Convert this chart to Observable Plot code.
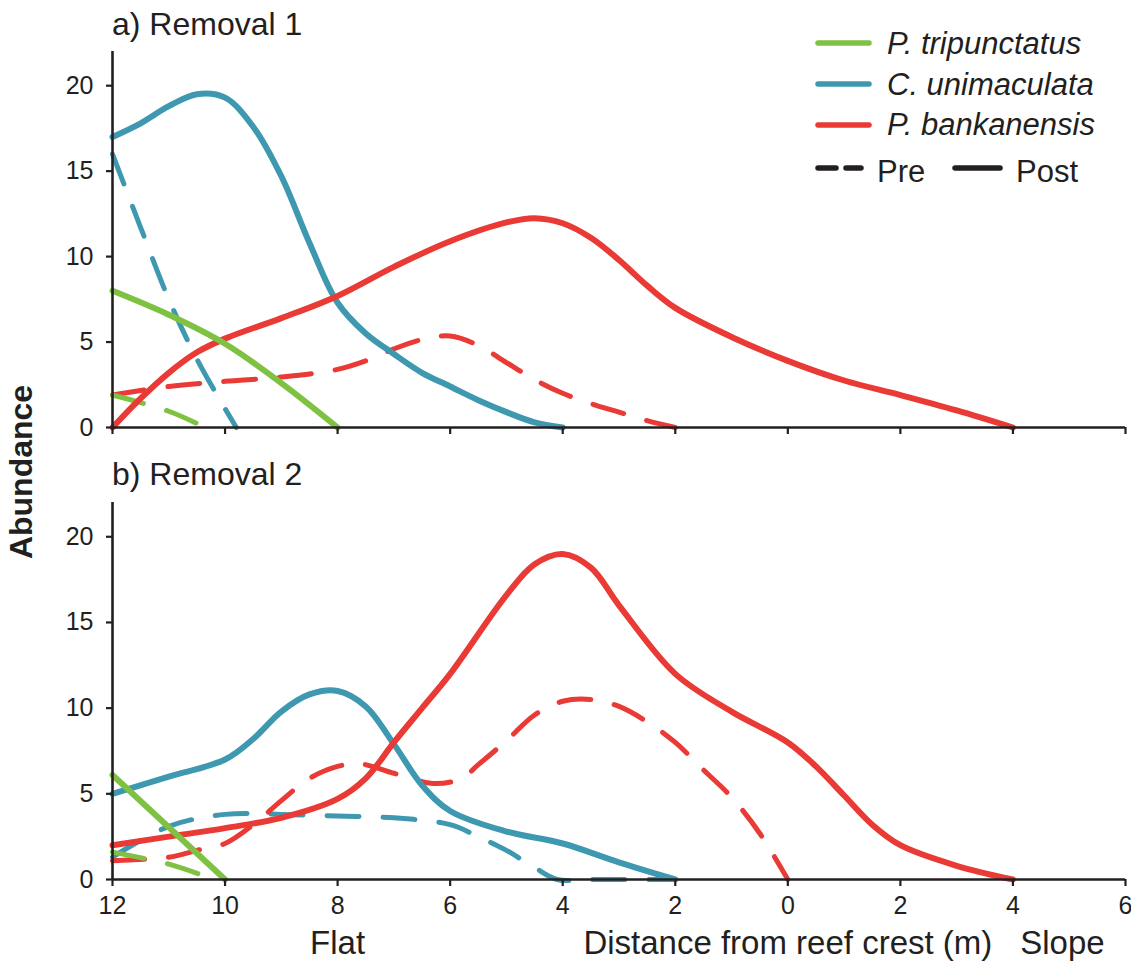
<!DOCTYPE html>
<html>
<head>
<meta charset="utf-8">
<script src="https://cdn.jsdelivr.net/npm/d3@7"></script>
<script src="https://cdn.jsdelivr.net/npm/@observablehq/plot@0.6"></script>
<style>
  html, body { margin: 0; padding: 0; background: #fff; }
  #fig { position: relative; width: 1131px; height: 961px; font-family: 'Liberation Sans', Arial, sans-serif; color: #231f20; overflow: hidden; }
  .abs { position: absolute; white-space: nowrap; line-height: 1; }
</style>
</head>
<body>
<div id="fig"></div>
<script>
// ---------- data (x = signed distance from reef crest: negative = flat, positive = slope) ----------
const xTicks = [-12, -10, -8, -6, -4, -2, 0, 2, 4, 6];
const yTicks = [0, 5, 10, 15, 20];
const species = ["P. tripunctatus", "C. unimaculata", "P. bankanensis"];
const speciesColors = ["#7fc243", "#3e98b0", "#e93a35"];
const phases = ["Pre", "Post"];
const panelTitles = ["a) Removal 1", "b) Removal 2"];
const xTitles = ["Flat", "Distance from reef crest (m)", "Slope"];
const xTitlePos = [-8, 0, 4.88];

// Removal 1
const r1TripunctatusPre  = [[-12, 1.9], [-11, 0.95], [-10.35, 0]];
const r1TripunctatusPost = [[-12, 8.0], [-11, 6.6], [-10, 4.9], [-9, 2.6], [-8, 0]];
const r1UnimaculataPre   = [[-12, 16.0], [-11.5, 11.7], [-11, 7.5], [-10.5, 4.0], [-10, 1.1], [-9.8, 0]];
const r1UnimaculataPost  = [[-12, 17.0], [-11.5, 17.8], [-11, 18.8], [-10.5, 19.5], [-10, 19.3], [-9.5, 17.6], [-9, 14.7], [-8.5, 10.8], [-8, 7.3], [-7.5, 5.5], [-7, 4.3], [-6.5, 3.2], [-6, 2.4], [-5.5, 1.6], [-5, 0.9], [-4.5, 0.3], [-4, 0]];
const r1BankanensisPre   = [[-12, 1.9], [-11, 2.4], [-10, 2.7], [-9, 2.95], [-8, 3.4], [-7.5, 3.9], [-7, 4.6], [-6.5, 5.15], [-6, 5.35], [-5.5, 4.8], [-5, 3.8], [-4.5, 2.8], [-4, 2.0], [-3.5, 1.4], [-3, 0.9], [-2.5, 0.4], [-2, 0]];
const r1BankanensisPost  = [[-12, 0], [-11.5, 1.7], [-11, 3.2], [-10.5, 4.4], [-10, 5.2], [-9, 6.4], [-8, 7.7], [-7, 9.4], [-6, 10.9], [-5, 12.0], [-4.5, 12.25], [-4, 11.95], [-3.5, 11.1], [-3, 9.8], [-2.5, 8.3], [-2, 7.0], [-1, 5.3], [0, 3.9], [1, 2.75], [2, 1.9], [3, 1.0], [4, 0]];

// Removal 2
const r2TripunctatusPre  = [[-12, 1.6], [-11, 0.9], [-10.4, 0.25], [-10.2, 0]];
const r2TripunctatusPost = [[-12, 6.1], [-11, 3.05], [-10, 0]];
const r2UnimaculataPre   = [[-12, 1.3], [-11, 3.1], [-10, 3.8], [-9, 3.8], [-8, 3.7], [-7, 3.6], [-6, 3.2], [-5.5, 2.5], [-5, 1.7], [-4.5, 0.7], [-4.1, 0], [-3.5, 0], [-2, 0]];
const r2UnimaculataPost  = [[-12, 5.0], [-11, 6.0], [-10, 7.0], [-9.5, 8.2], [-9, 9.8], [-8.5, 10.8], [-8, 11.0], [-7.5, 10.1], [-7, 7.9], [-6.5, 5.5], [-6, 4.0], [-5, 2.8], [-4, 2.1], [-3, 1.0], [-2, 0]];
const r2BankanensisPre   = [[-12, 1.1], [-11, 1.3], [-10.5, 1.7], [-10, 2.1], [-9.5, 3.2], [-9, 4.6], [-8.5, 5.9], [-8, 6.6], [-7.6, 6.75], [-7, 6.2], [-6.3, 5.6], [-5.8, 5.9], [-5.5, 6.7], [-5, 8.1], [-4.5, 9.6], [-4, 10.4], [-3.5, 10.5], [-3, 10.1], [-2.5, 9.2], [-2, 8.0], [-1.5, 6.4], [-1, 4.8], [-0.5, 2.7], [0, 0]];
const r2BankanensisPost  = [[-12, 2.0], [-11, 2.5], [-10, 3.0], [-9, 3.6], [-8, 4.7], [-7.5, 5.9], [-7, 8.0], [-6.5, 10.0], [-6, 12.0], [-5, 16.6], [-4.5, 18.4], [-4, 19.0], [-3.5, 18.2], [-3, 16.0], [-2, 12.0], [-1, 9.8], [0, 8.0], [0.5, 6.6], [1, 4.9], [1.5, 3.2], [2, 2.0], [3, 0.8], [4, 0]];

const panels = [
  [[r1TripunctatusPre, r1TripunctatusPost], [r1UnimaculataPre, r1UnimaculataPost], [r1BankanensisPre, r1BankanensisPost]],
  [[r2TripunctatusPre, r2TripunctatusPost], [r2UnimaculataPre, r2UnimaculataPost], [r2BankanensisPre, r2BankanensisPost]]
];

// ---------- drawing ----------
const fig = document.getElementById("fig");
const FONT = "'Liberation Sans', Arial, sans-serif";
const INK = "#231f20";

function seriesMarks(panel) {
  const marks = [];
  const order = [1, 2, 0];
  for (let ph = 0; ph < 2; ph++) {
    for (const s of order) {
      const rows = panel[s][ph].map(([x, y]) => ({x, y}));
      marks.push(Plot.line(rows, {
        x: "x", y: "y",
        stroke: speciesColors[s],
        strokeWidth: ph === 0 ? 5 : 6,
        strokeDasharray: ph === 0 ? "32,24" : null,
        strokeLinecap: "round",
        strokeLinejoin: "round",
        curve: "catmull-rom"
      }));
    }
  }
  return marks;
}

function makePanel(idx) {
  const isB = idx === 1;
  const height = isB ? 511 : 450;
  const marginTop = isB ? 52 : 51;
  const marginBottom = isB ? 82 : 23;
  const marks = [
    ...seriesMarks(panels[idx]),
    Plot.ruleY([0], {stroke: INK, strokeWidth: 2.6}),
    Plot.ruleX([-12], {stroke: INK, strokeWidth: 2.6}),
    Plot.axisY({ticks: yTicks, tickSize: 6, tickPadding: 13, fontSize: 25, color: INK, strokeWidth: 2.2, label: null}),
    Plot.axisX({ticks: xTicks, tickSize: 7, tickPadding: 10, fontSize: 25, color: INK, strokeWidth: 2.2, label: null,
      tickFormat: isB ? (d => String(Math.abs(d))) : (() => "")})
  ];
  if (isB) {
    marks.push(Plot.text(xTitles.map((t, i) => ({t, x: xTitlePos[i]})), {
      x: "x", text: "t", frameAnchor: "bottom", dy: 64, fontSize: 33, fill: INK, lineAnchor: "middle"
    }));
  }
  const svg = Plot.plot({
    width: 1131, height,
    marginLeft: 112, marginRight: 6, marginTop, marginBottom,
    x: {domain: [-12, 6], label: null},
    y: {domain: [0, 22], label: null},
    style: {fontFamily: FONT, background: "transparent", overflow: "visible"},
    marks
  });
  svg.style.position = "absolute";
  svg.style.left = "0px";
  svg.style.top = (isB ? 450 : 0) + "px";
  fig.appendChild(svg);
}
makePanel(0);
makePanel(1);

// panel titles
const titleTops = [8, 458];
panelTitles.forEach((t, i) => {
  const d = document.createElement("div");
  d.className = "abs";
  d.style.left = "112px";
  d.style.top = titleTops[i] + "px";
  d.style.fontSize = "32px";
  d.textContent = t;
  fig.appendChild(d);
});

// y title
const yt = document.createElement("div");
yt.className = "abs";
yt.style.left = "21px";
yt.style.top = "472px";
yt.style.fontSize = "32px";
yt.style.fontWeight = "bold";
yt.style.transform = "translate(-50%,-50%) rotate(-90deg)";
yt.textContent = "Abundance";
fig.appendChild(yt);

// legend
const NS = "http://www.w3.org/2000/svg";
const leg = document.createElementNS(NS, "svg");
leg.setAttribute("width", 1131);
leg.setAttribute("height", 200);
leg.style.position = "absolute";
leg.style.left = "0px";
leg.style.top = "0px";
fig.appendChild(leg);
function ln(x1, x2, y, color, w) {
  const l = document.createElementNS(NS, "line");
  l.setAttribute("x1", x1); l.setAttribute("x2", x2);
  l.setAttribute("y1", y); l.setAttribute("y2", y);
  l.setAttribute("stroke", color); l.setAttribute("stroke-width", w);
  l.setAttribute("stroke-linecap", "round");
  leg.appendChild(l);
}
function tx(x, y, s, italic) {
  const t = document.createElementNS(NS, "text");
  t.setAttribute("x", x); t.setAttribute("y", y);
  t.setAttribute("font-family", FONT);
  t.setAttribute("font-size", 31);
  t.setAttribute("fill", INK);
  if (italic) t.setAttribute("font-style", "italic");
  t.textContent = s;
  leg.appendChild(t);
}
const legY = [43, 84, 125];
const legBase = [54, 95, 135];
species.forEach((s, i) => {
  ln(818, 869, legY[i], speciesColors[i], 5.5);
  tx(887, legBase[i], s, true);
});
ln(818, 836, 168, INK, 5.5);
ln(846, 861, 168, INK, 5.5);
tx(877, 182, phases[0], false);
ln(955, 1000, 168, INK, 5.5);
tx(1016, 182, phases[1], false);
</script>
</body>
</html>
